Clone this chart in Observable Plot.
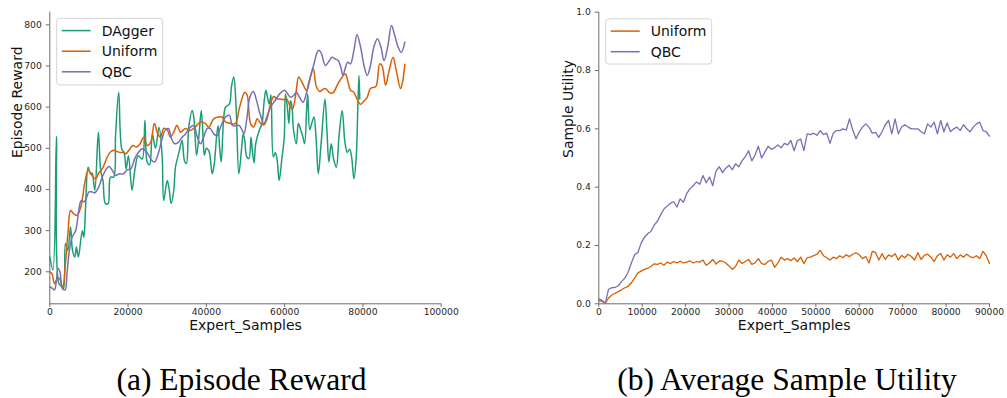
<!DOCTYPE html>
<html>
<head>
<meta charset="utf-8">
<script src="https://cdn.jsdelivr.net/npm/d3@7"></script>
<script src="https://cdn.jsdelivr.net/npm/@observablehq/plot@0.6"></script>
<style>
  html, body { margin: 0; padding: 0; background: #fff; }
  #root { position: relative; width: 1007px; height: 398px; overflow: hidden; font-family: "DejaVu Sans", sans-serif; }
  .panel { position: absolute; top: 0; }
  #overlay { position: absolute; left: 0; top: 0; pointer-events: none; }
</style>
</head>
<body>
<div id="root">
  <div id="left" class="panel" style="left:0px"></div>
  <div id="right" class="panel" style="left:500px"></div>
  <svg id="overlay" width="1007" height="398"></svg>
</div>
<script>
// ---------- data ----------
const seriesNames = ["DAgger", "Uniform", "QBC"];
const seriesColors = ["#1b9e77", "#d95f02", "#7570b3"];

const rewardXTicks = [0, 20000, 40000, 60000, 80000, 100000];
const rewardYTicks = [200, 300, 400, 500, 600, 700, 800];
const utilXTicks = [0, 10000, 20000, 30000, 40000, 50000, 60000, 70000, 80000, 90000];
const utilYTicks = [0.0, 0.2, 0.4, 0.6, 0.8, 1.0];

const daggerReward = [
  [0,236],[800,205],[1700,529],[2300,172],[3000,165],[3500,160],[4000,269],[4600,252],[5300,309],[5800,252],
  [6400,236],[6800,260],[7300,236],[8300,300],[8700,284],[9100,349],[9800,454],[10400,438],[10800,440],[11500,398],
  [12400,539],[13000,446],[13600,420],[14200,366],[14900,366],[15500,430],[16300,430],[16800,531],[17600,636],[18400,498],
  [19000,490],[19500,450],[20100,482],[21000,398],[21700,446],[22600,482],[23600,474],[24300,568],[24900,466],[25500,460],
  [26200,535],[27000,500],[27900,551],[28700,482],[29100,373],[30000,422],[30500,400],[31000,366],[31700,400],[32100,454],
  [33000,490],[33800,519],[34400,470],[34900,463],[35500,551],[36400,592],[36800,575],[37500,483],[38100,530],[38700,592],
  [39200,520],[39500,483],[40000,500],[40700,492],[41500,438],[42000,460],[42600,527],[43000,555],[43400,500],[43800,467],
  [44400,570],[44900,600],[45900,608],[46400,649],[47000,673],[47600,600],[48300,438],[49000,500],[49400,535],[49800,520],
  [50300,480],[50900,475],[51400,527],[51800,490],[52200,465],[52600,511],[53500,543],[54200,560],[54700,608],[55200,641],
  [55700,620],[56100,608],[56500,630],[57100,479],[57600,490],[58100,470],[58600,422],[59300,475],[59900,527],[60200,632],
  [60700,600],[61100,560],[61500,616],[61900,600],[62200,550],[63000,511],[63500,560],[64000,548],[64600,530],[65100,511],
  [65600,592],[65900,632],[66400,545],[66900,560],[67500,576],[68000,530],[68600,438],[69300,510],[70300,620],[70800,545],
  [71300,467],[71900,511],[72500,475],[73200,454],[73900,530],[74700,592],[75400,515],[76000,490],[76600,498],[77100,480],
  [77700,426],[78300,480],[78700,600],[79000,677],[79200,620]
];
const uniformReward = [
  [0,200],[600,195],[1200,171],[2100,186],[2700,180],[3300,159],[4000,220],[4700,301],[5300,349],[6200,340],
  [7000,337],[7900,357],[8400,382],[8900,414],[9800,446],[10800,434],[11700,426],[12500,440],[13400,450],[14700,479],
  [15500,491],[16400,495],[17200,492],[18000,490],[18700,490],[19400,487],[20200,495],[21200,507],[22100,503],[23000,510],
  [24000,527],[24900,507],[25800,515],[26700,560],[27600,535],[28300,527],[29100,548],[30000,545],[30800,527],[31700,540],
  [32500,556],[33400,539],[34600,548],[35900,543],[37200,552],[38500,564],[39800,560],[40600,551],[41900,572],[43200,576],
  [44000,576],[44900,564],[46200,560],[47400,560],[48500,600],[49800,636],[50400,630],[51300,560],[52100,552],[53000,572],
  [53900,560],[54700,557],[55500,572],[56400,608],[57200,626],[58100,620],[58900,620],[59700,618],[60500,620],[61500,600],
  [62000,595],[62800,628],[63600,673],[64400,661],[65600,641],[66300,665],[67300,693],[68100,650],[69000,638],[69500,641],
  [70400,645],[71700,634],[72500,636],[73400,653],[74700,673],[75500,681],[76100,665],[76800,641],[77600,637],[78500,620],
  [79400,607],[80300,615],[81100,624],[81900,645],[83300,650],[83700,665],[84300,705],[84900,700],[85800,653],[86600,685],
  [87700,721],[88500,690],[89600,645],[90100,660],[90700,704]
];
const qbcReward = [
  [0,163],[700,160],[1200,156],[1700,179],[2100,208],[2600,200],[3200,160],[3900,156],[4400,196],[5000,252],
  [5700,284],[6600,300],[7400,349],[8000,373],[8700,370],[9300,378],[10000,394],[10800,394],[11500,392],[12500,406],
  [13400,430],[14200,446],[15100,456],[16000,446],[16800,434],[17800,438],[18800,438],[19800,448],[20700,450],[21700,475],
  [22700,491],[23600,499],[24400,495],[25300,483],[26000,471],[26800,467],[27700,487],[28700,523],[29400,543],[30300,548],
  [31100,523],[31900,511],[32900,515],[33800,527],[34700,535],[35900,551],[36800,555],[37700,527],[38500,511],[39300,527],
  [40200,548],[41000,548],[41900,535],[42800,531],[43600,551],[44900,576],[45900,580],[46600,556],[47400,554],[48300,556],
  [49200,543],[49600,535],[50400,576],[51100,624],[52000,638],[52800,617],[53700,584],[54700,560],[55500,578],[56400,600],
  [57700,618],[58900,634],[60000,641],[60700,633],[61500,624],[62300,628],[63000,636],[63800,624],[64700,612],[65600,635],
  [66600,673],[67600,709],[68300,733],[68800,738],[69400,730],[70400,701],[71200,710],[72100,721],[72900,717],[73700,713],
  [74400,695],[74900,677],[75500,695],[76100,709],[76800,705],[77700,738],[78500,776],[79400,746],[80300,700],[81100,677],
  [81900,700],[82800,746],[83700,766],[84600,746],[85400,713],[86300,745],[87300,798],[88100,775],[89000,746],[89800,733],
  [90700,758]
];

// Sample utility, sampled every 750 expert samples from 0 to 90000
const utilStep = 750;
const uniformUtility = [
  0.011,0.008,0.002,0.020,0.030,0.036,0.042,0.048,0.055,0.060,
  0.072,0.088,0.106,0.112,0.118,0.122,0.128,0.137,0.135,0.140,
  0.132,0.143,0.138,0.145,0.140,0.146,0.140,0.143,0.147,0.140,
  0.145,0.143,0.150,0.132,0.140,0.152,0.136,0.147,0.146,0.140,
  0.130,0.118,0.128,0.150,0.138,0.145,0.152,0.135,0.140,0.155,
  0.138,0.135,0.145,0.150,0.125,0.140,0.160,0.150,0.155,0.148,
  0.157,0.145,0.160,0.138,0.158,0.160,0.165,0.170,0.183,0.165,
  0.158,0.150,0.160,0.155,0.165,0.158,0.168,0.162,0.170,0.175,
  0.168,0.155,0.162,0.140,0.180,0.176,0.150,0.172,0.152,0.168,
  0.162,0.172,0.150,0.166,0.158,0.170,0.162,0.150,0.175,0.152,
  0.166,0.170,0.160,0.145,0.165,0.172,0.150,0.168,0.160,0.172,
  0.155,0.168,0.160,0.170,0.162,0.158,0.165,0.155,0.180,0.165,
  0.138
];
const qbcUtility = [
  0.017,0.012,0.002,0.050,0.055,0.056,0.062,0.076,0.088,0.108,
  0.140,0.168,0.176,0.208,0.228,0.240,0.248,0.270,0.283,0.305,
  0.325,0.335,0.345,0.350,0.332,0.360,0.348,0.378,0.395,0.405,
  0.418,0.410,0.440,0.415,0.435,0.405,0.455,0.470,0.450,0.465,
  0.475,0.460,0.480,0.470,0.490,0.505,0.525,0.490,0.510,0.540,
  0.500,0.520,0.540,0.530,0.535,0.545,0.535,0.550,0.545,0.560,
  0.525,0.560,0.565,0.525,0.583,0.580,0.585,0.578,0.594,0.580,
  0.585,0.550,0.585,0.594,0.594,0.600,0.596,0.634,0.596,0.566,
  0.590,0.606,0.617,0.606,0.585,0.588,0.571,0.590,0.614,0.629,
  0.583,0.634,0.583,0.606,0.614,0.606,0.600,0.600,0.600,0.590,
  0.583,0.617,0.606,0.623,0.583,0.629,0.590,0.620,0.590,0.600,
  0.606,0.594,0.614,0.600,0.590,0.606,0.617,0.623,0.594,0.590,
  0.575
];

const captions = ["(a) Episode Reward", "(b) Average Sample Utility"];

// ---------- build ----------
const toRows = (pairs) => pairs.map(([x, y]) => ({x, y}));
const utilRows = (vals) => vals.map((y, i) => ({x: i * utilStep, y}));

const axisColor = "#6b6b6b";
const tickText = "#262626";

function spines(xmin, ymin) {
  return [
    Plot.ruleX([xmin], {stroke: axisColor, strokeWidth: 1}),
    Plot.ruleY([ymin], {stroke: axisColor, strokeWidth: 1})
  ];
}

const rewardDomainY = [122.3, 830.6];
const left = Plot.plot({
  width: 500, height: 340,
  marginLeft: 49.3, marginRight: 59.3, marginTop: 11.7, marginBottom: 36.7,
  style: {fontFamily: "DejaVu Sans", background: "transparent", color: tickText, overflow: "visible"},
  x: {domain: [0, 100000]},
  y: {domain: rewardDomainY},
  marks: [
    Plot.axisX({ticks: rewardXTicks, tickFormat: d3.format("d"), tickSize: 3.5, tickPadding: 1.5, fontSize: 9.2, label: null, stroke: axisColor}),
    Plot.axisY({ticks: rewardYTicks, tickFormat: d3.format("d"), tickSize: 3.5, tickPadding: 4.5, fontSize: 9.2, label: null, stroke: axisColor}),
    ...spines(0, rewardDomainY[0]),
    Plot.line(toRows(daggerReward), {x: "x", y: "y", stroke: seriesColors[0], strokeWidth: 1.5, curve: "catmull-rom"}),
    Plot.line(toRows(uniformReward), {x: "x", y: "y", stroke: seriesColors[1], strokeWidth: 1.5, curve: "catmull-rom"}),
    Plot.line(toRows(qbcReward), {x: "x", y: "y", stroke: seriesColors[2], strokeWidth: 1.5, curve: "catmull-rom"}),
    Plot.text(["Expert_Samples"], {frameAnchor: "bottom", dy: 21.7, fontSize: 14, fill: "#111", lineAnchor: "middle"}),
    Plot.text(["Episode Reward"], {frameAnchor: "left", dx: -32.3, rotate: -90, fontSize: 14, fill: "#111", lineAnchor: "middle"})
  ]
});
document.getElementById("left").appendChild(left);

const right = Plot.plot({
  width: 507, height: 340,
  marginLeft: 98.3, marginRight: 18, marginTop: 11.7, marginBottom: 36.7,
  style: {fontFamily: "DejaVu Sans", background: "transparent", color: tickText, overflow: "visible"},
  x: {domain: [0, 90000]},
  y: {domain: [0, 1]},
  marks: [
    Plot.axisX({ticks: utilXTicks, tickFormat: d3.format("d"), tickSize: 3.5, tickPadding: 1.5, fontSize: 9.2, label: null, stroke: axisColor}),
    Plot.axisY({ticks: utilYTicks, tickFormat: d3.format(".1f"), tickSize: 3.5, tickPadding: 4.5, fontSize: 9.2, label: null, stroke: axisColor}),
    ...spines(0, 0),
    Plot.line(utilRows(uniformUtility), {x: "x", y: "y", stroke: seriesColors[1], strokeWidth: 1.3}),
    Plot.line(utilRows(qbcUtility), {x: "x", y: "y", stroke: seriesColors[2], strokeWidth: 1.3}),
    Plot.text(["Expert_Samples"], {frameAnchor: "bottom", dy: 21.7, fontSize: 14, fill: "#111", lineAnchor: "middle"}),
    Plot.text(["Sample Utility"], {frameAnchor: "left", dx: -30.3, rotate: -90, fontSize: 14, fill: "#111", lineAnchor: "middle"})
  ]
});
document.getElementById("right").appendChild(right);

// ---------- legends and captions ----------
const ov = d3.select("#overlay");
function legend(x, y, w, h, items) {
  const g = ov.append("g");
  g.append("rect").attr("x", x).attr("y", y).attr("width", w).attr("height", h)
    .attr("rx", 3).attr("fill", "#fff").attr("fill-opacity", 0.8).attr("stroke", "#d4d4d4").attr("stroke-width", 1);
  items.forEach((it, i) => {
    const cy = y + 12.3 + i * 20.6;
    g.append("line").attr("x1", x + 5).attr("x2", x + 34).attr("y1", cy).attr("y2", cy)
      .attr("stroke", it.color).attr("stroke-width", 1.5);
    g.append("text").attr("x", x + 45).attr("y", cy).attr("dy", "0.36em")
      .attr("font-family", "DejaVu Sans").attr("font-size", 14).attr("fill", "#111").text(it.name);
  });
}
legend(56.7, 18.3, 106, 66.7, seriesNames.map((n, i) => ({name: n, color: seriesColors[i]})));
legend(605.7, 18.8, 106, 45.2, [1, 2].map(i => ({name: seriesNames[i], color: seriesColors[i]})));

[[241.5, captions[0]], [787, captions[1]]].forEach(([cx, t]) => {
  ov.append("text").attr("x", cx).attr("y", 390).attr("text-anchor", "middle")
    .attr("font-family", "Liberation Serif").attr("font-size", 31.5).attr("fill", "#000").text(t);
});
</script>
</body>
</html>
